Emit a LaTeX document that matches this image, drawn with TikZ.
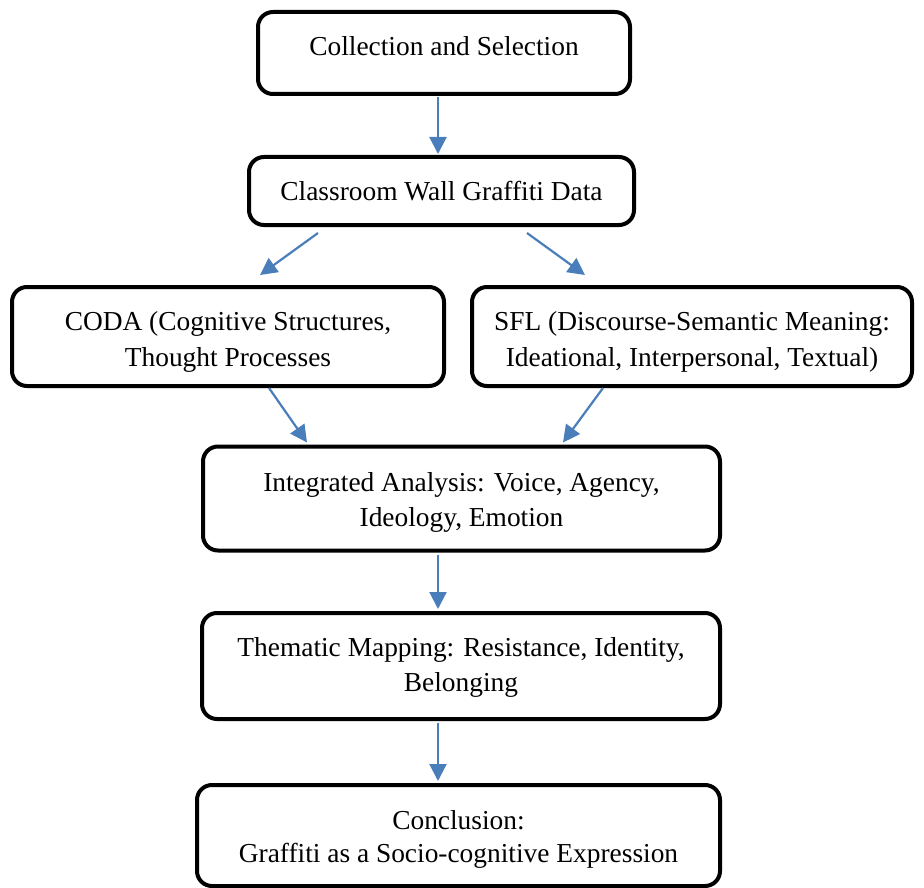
\documentclass[tikz,border=0pt]{standalone}
\usepackage{fontspec}
\setmainfont{Liberation Serif}
\usetikzlibrary{arrows.meta,calc}
\definecolor{arrowblue}{RGB}{74,126,187}
\begin{document}
\begin{tikzpicture}[x=1pt,y=-1pt,
  stepbox/.style={draw=black,line width=4pt,rounded corners=15pt,fill=white,
    align=center,inner sep=0pt,font=\fontsize{27.4}{35.5}\selectfont},
  flow/.style={draw=arrowblue,line width=2.2pt,-{Triangle[length=17pt,width=17pt]}}]
\useasboundingbox (0,0) rectangle (924,888);
\node[stepbox,minimum width=372,minimum height=82,text depth=14pt] (b1) at (444,53) {Collection and Selection};
\node[stepbox,minimum width=385,minimum height=68] (b2) at (441.5,191) {Classroom Wall Graffiti Data};
\node[stepbox,minimum width=432,minimum height=99,text height=69pt,text depth=10pt] (b3) at (228,336.5) {CODA (Cognitive Structures,\\Thought Processes};
\node[stepbox,minimum width=440,minimum height=99,text height=69pt,text depth=10pt] (b4) at (692,336.5) {SFL (Discourse-Semantic Meaning:\\Ideational, Interpersonal, Textual)};
\node[stepbox,minimum width=517,minimum height=104,text height=66.6pt,text depth=10pt] (b5) at (461.5,498.5) {Integrated Analysis: Voice, Agency,\\Ideology, Emotion};
\node[stepbox,minimum width=518,minimum height=106,text height=61.4pt,text depth=10pt] (b6) at (461,666) {Thematic Mapping: Resistance, Identity,\\Belonging};
\node[stepbox,minimum width=523,minimum height=101,text height=64.4pt,text depth=10pt,font=\fontsize{27.4}{33}\selectfont] (b7) at (458.5,835.5) {Conclusion:\\Graffiti as a Socio-cognitive Expression};
\draw[flow] ($(b1.south)+(-6,1)$) -- ($(b2.north)+(-3.5,-1)$);
\draw[flow] ($(b2.south)+(-123.5,6)$) -- ($(b3.north)+(32,-10)$);
\draw[flow] ($(b2.south)+(85.5,6)$) -- ($(b4.north)+(-107,-10)$);
\draw[flow] ($(b3.south)+(41,0)$) -- ($(b5.north)+(-154.5,-2)$);
\draw[flow] ($(b4.south)+(-89,0)$) -- ($(b5.north)+(101.5,-2)$);
\draw[flow] ($(b5.south)+(-23.5,2)$) -- ($(b6.north)+(-23,-2)$);
\draw[flow] ($(b6.south)+(-23,2)$) -- ($(b7.north)+(-20.5,-2)$);
\end{tikzpicture}
\end{document}
